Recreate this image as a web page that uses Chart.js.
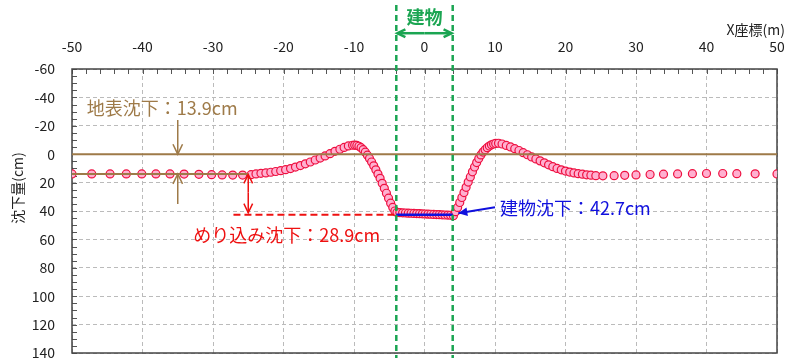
<!DOCTYPE html>
<html>
<head>
<meta charset="utf-8">
<script src="https://cdn.jsdelivr.net/npm/chart.js@4/dist/chart.umd.min.js"></script>
<style>
  html, body { margin: 0; padding: 0; background: #fff; overflow: hidden; }
  #wrap { width: 786px; height: 366px; }
</style>
</head>
<body>
<div id="wrap"><canvas id="myChart" width="786" height="366"></canvas></div>
<script>
// 測点 X座標(m)
const xValues = [
  -50, -47.2, -44.6, -42.3, -40.1, -38.1, -36.1, -34.1, -32.0, -30.2, -28.7, -27.2, -25.8, -24.6,
  -23.9, -23.2, -22.5, -21.8, -21.1, -20.4, -19.7, -19.0, -18.3, -17.6, -16.9, -16.2, -15.5, -14.8,
  -14.1, -13.4, -12.7, -12.0, -11.4, -10.8, -10.2,
  -9.9, -9.6, -9.3, -9.0, -8.7, -8.4, -8.1, -7.8, -7.5, -7.2, -6.9, -6.6, -6.3, -6.0, -5.7, -5.4,
  -5.1, -4.8, -4.5, -4.2,
  -3.9, -3.5, -3.1, -2.7, -2.3, -1.9, -1.5, -1.1, -0.7, -0.3, 0.1, 0.5, 0.9, 1.3, 1.7, 2.1, 2.5,
  2.9, 3.3, 3.7, 4.1,
  4.4, 4.7, 5.0, 5.3, 5.6, 5.9, 6.2, 6.5, 6.8, 7.1, 7.4, 7.7, 8.0, 8.3, 8.6, 8.9, 9.2, 9.5, 9.8, 10.1,
  10.5, 11.0, 11.6, 12.2, 12.8, 13.4, 14.0, 14.6, 15.2, 15.8, 16.4, 17.0, 17.6, 18.2, 18.8, 19.4,
  20.0, 20.6, 21.2, 21.8, 22.4, 23.0, 23.6, 24.3,
  25.3, 26.9, 28.4, 30.0, 32.0, 33.9, 35.9, 38.0, 40.0, 42.3, 44.3, 46.9, 50.0
];

// 沈下量(cm)
const settlement = [
  13.9, 13.9, 13.9, 13.9, 13.9, 13.9, 13.9, 14.0, 14.2, 14.4, 14.6, 14.7, 14.7, 14.4,
  13.9, 13.5, 13.2, 12.7, 12.2, 11.6, 10.9, 10.1, 9.1, 8.0, 6.8, 5.5, 4.1, 2.7,
  1.2, -0.4, -2.0, -3.5, -4.8, -5.8, -6.3,
  -6.4, -6.2, -5.6, -4.6, -3.2, -1.4, 0.7, 3.0, 5.5, 8.2, 11.0, 14.0, 17.0, 20.5, 24.0, 27.5,
  31.0, 34.5, 37.5, 40.0,
  41.0, 41.2, 41.3, 41.4, 41.5, 41.6, 41.7, 41.8, 41.9, 42.0, 42.1, 42.2, 42.3, 42.4, 42.5, 42.6, 42.7,
  42.8, 42.9, 43.0, 43.3,
  40.5, 37.5, 34.0, 30.5, 27.0, 23.3, 19.6, 16.0, 12.4, 9.0, 5.9, 3.0, 0.5, -1.5, -3.2, -4.6, -5.7, -6.6, -7.2, -7.6,
  -7.7, -7.2, -6.2, -5.1, -3.9, -2.6, -1.1, 0.4, 1.9, 3.3, 4.7, 6.1, 7.5, 8.8, 10.0, 11.0,
  11.9, 12.6, 13.2, 13.7, 14.1, 14.5, 14.8, 15.1,
  15.2, 15.1, 14.9, 14.6, 14.3, 14.1, 13.9, 13.7, 13.6, 13.6, 13.7, 13.8, 13.9
];

const xTicks = [-50, -40, -30, -20, -10, 0, 10, 20, 30, 40, 50];
const yTicks = [-60, -40, -20, 0, 20, 40, 60, 80, 100, 120, 140];

const surfaceSettle = 13.9;   // 地表沈下
const buildingSettle = 42.7;  // 建物沈下
const buildingEdges = [-4, 4];

const FONT = '"Noto Sans CJK JP", "Noto Sans", sans-serif';
const BROWN = '#9e7a48';
const RED = '#ee1111';
const BLUE = '#1010dd';
const GREEN = '#1ba552';

function arrow(ctx, x1, y1, x2, y2, head, filled) {
    const ang = Math.atan2(y2 - y1, x2 - x1);
    ctx.beginPath();
    ctx.moveTo(x1, y1);
    ctx.lineTo(x2, y2);
    ctx.stroke();
    const a1 = ang + Math.PI - 0.45, a2 = ang + Math.PI + 0.45;
    ctx.beginPath();
    ctx.moveTo(x2 + head * Math.cos(a1), y2 + head * Math.sin(a1));
    ctx.lineTo(x2, y2);
    ctx.lineTo(x2 + head * Math.cos(a2), y2 + head * Math.sin(a2));
    if (filled) { ctx.closePath(); ctx.fill(); } else ctx.stroke();
}

function noPad(s) {
    s.paddingLeft = 0; s.paddingRight = 0; s.paddingTop = 0; s.paddingBottom = 0;
}

const frame = {
    id: 'frame',
    beforeDatasetsDraw(chart) {
        const { ctx, chartArea: a, scales: { x, y } } = chart;
        ctx.save();
        ctx.strokeStyle = '#555';
        ctx.lineWidth = 1;
        // 内向きの目盛り
        for (let v = -50; v <= 50; v += 2) {
            const px = Math.round(x.getPixelForValue(v)) + 0.5;
            ctx.beginPath(); ctx.moveTo(px, a.top); ctx.lineTo(px, a.top + 5); ctx.stroke();
        }
        for (let v = -60; v <= 140; v += 5) {
            const py = Math.round(y.getPixelForValue(v)) + 0.5;
            ctx.beginPath(); ctx.moveTo(a.left, py); ctx.lineTo(a.left + 5, py); ctx.stroke();
        }
        ctx.lineWidth = 1.5;
        ctx.strokeStyle = '#444';
        ctx.strokeRect(a.left, a.top, a.right - a.left, a.bottom - a.top);
        ctx.restore();
    },
    afterDatasetsDraw(chart) {
        const { ctx, chartArea: a, scales: { x, y } } = chart;
        const X = v => x.getPixelForValue(v), Y = v => y.getPixelForValue(v);
        ctx.save();

        // 地表沈下
        ctx.strokeStyle = BROWN; ctx.fillStyle = BROWN; ctx.lineWidth = 1.5;
        arrow(ctx, X(-35), Y(-24), X(-35), Y(0), 11, false);
        arrow(ctx, X(-35), Y(35), X(-35), Y(surfaceSettle), 11, false);
        ctx.font = '18px ' + FONT;
        ctx.textBaseline = 'middle';
        ctx.fillText('地表沈下：13.9cm', X(-47.9), Y(-32.4));

        // めり込み沈下
        ctx.strokeStyle = RED; ctx.fillStyle = RED; ctx.lineWidth = 1.5;
        arrow(ctx, X(-25), Y(27), X(-25), Y(surfaceSettle + 0.3), 10, false);
        arrow(ctx, X(-25), Y(27), X(-25), Y(buildingSettle - 1.5), 10, false);
        ctx.fillText('めり込み沈下：28.9cm', X(-32.8), Y(57));

        // 建物沈下
        ctx.strokeStyle = BLUE; ctx.fillStyle = BLUE; ctx.lineWidth = 2;
        arrow(ctx, X(10), Y(37.3), X(4.8), Y(41.6), 10, true);
        ctx.fillText('建物沈下：42.7cm', X(10.7), Y(38));

        // 建物範囲
        ctx.strokeStyle = GREEN; ctx.fillStyle = GREEN; ctx.lineWidth = 2.5;
        ctx.setLineDash([6, 4]);
        buildingEdges.forEach(e => {
            ctx.beginPath(); ctx.moveTo(X(e), 5); ctx.lineTo(X(e), chart.height); ctx.stroke();
        });
        ctx.setLineDash([]);
        const ay = Y(-85.2);
        arrow(ctx, X(0), ay, X(buildingEdges[0]) + 1, ay, 9, false);
        arrow(ctx, X(0), ay, X(buildingEdges[1]) - 1, ay, 9, false);
        ctx.font = 'bold 18px ' + FONT;
        ctx.textAlign = 'center';
        ctx.fillText('建物', X(0), 17);

        // 軸タイトル
        ctx.fillStyle = '#222';
        ctx.font = '14px ' + FONT;
        ctx.textAlign = 'right';
        ctx.fillText('X座標(m)', a.right + 8, a.top - 39);
        ctx.translate(18, 188);
        ctx.rotate(-Math.PI / 2);
        ctx.textAlign = 'center';
        ctx.fillText('沈下量(cm)', 0, 0);
        ctx.restore();
    }
};

function crearGrafico(canvas) {
    const pts = xValues.map((v, i) => ({ x: v, y: settlement[i] }));
    return new Chart(canvas, {
        type: 'scatter',
        data: {
            datasets: [
                {
                    data: [{ x: -50, y: 0 }, { x: 50, y: 0 }],
                    showLine: true, borderColor: BROWN, borderWidth: 2, pointRadius: 0, order: 0
                },
                {
                    data: [{ x: -50, y: surfaceSettle }, { x: -25, y: surfaceSettle }],
                    showLine: true, borderColor: BROWN, borderWidth: 2, pointRadius: 0, order: 0
                },
                {
                    data: [{ x: -27.1, y: buildingSettle }, { x: buildingEdges[0], y: buildingSettle }],
                    showLine: true, borderColor: RED, borderWidth: 2, borderDash: [7, 4], pointRadius: 0, order: 0
                },
                {
                    data: [{ x: buildingEdges[0], y: buildingSettle }, { x: buildingEdges[1], y: buildingSettle }],
                    showLine: true, borderColor: BLUE, borderWidth: 2.5, pointRadius: 0, order: 0
                },
                {
                    data: pts,
                    pointRadius: 4,
                    pointBackgroundColor: '#ffb0d0',
                    pointBorderColor: '#ee1040',
                    pointBorderWidth: 1.2,
                    order: 1
                }
            ]
        },
        options: {
            responsive: false,
            animation: false,
            layout: { padding: { left: 0, right: 9, top: 0, bottom: 13 } },
            plugins: { legend: { display: false }, tooltip: { enabled: false } },
            scales: {
                x: {
                    type: 'linear', position: 'top', min: -50, max: 50,
                    afterBuildTicks: s => { s.ticks = xTicks.map(v => ({ value: v })); },
                    afterFit: s => { s.height = 69; noPad(s); },
                    grid: { color: '#bbb', lineWidth: 1, drawTicks: false },
                    border: { display: false, dash: [4, 3] },
                    ticks: { padding: 14, color: '#222', font: { family: FONT, size: 14 } }
                },
                y: {
                    type: 'linear', reverse: true, min: -60, max: 140,
                    afterBuildTicks: s => { s.ticks = yTicks.map(v => ({ value: v })); },
                    afterFit: s => { s.width = 72; noPad(s); },
                    grid: { color: '#bbb', lineWidth: 1, drawTicks: false },
                    border: { display: false, dash: [4, 3] },
                    ticks: { padding: 17, color: '#222', font: { family: FONT, size: 14 } }
                }
            }
        },
        plugins: [frame]
    });
}

crearGrafico(document.getElementById('myChart'));
</script>
</body>
</html>
